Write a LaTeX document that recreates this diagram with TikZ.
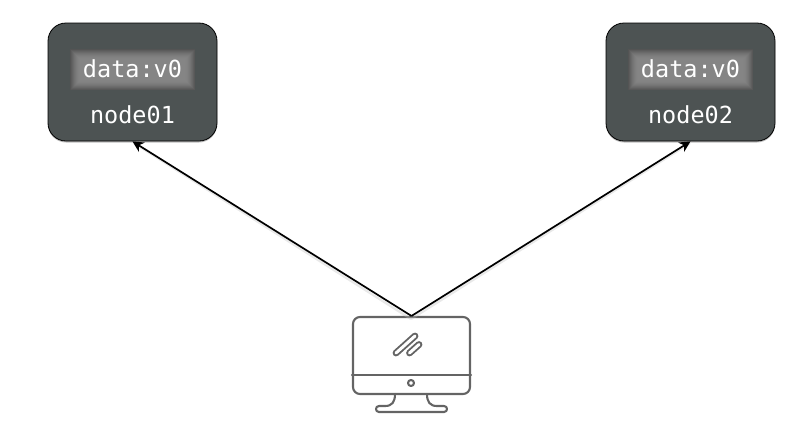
\documentclass[tikz,border=0pt]{standalone}
\usepackage{fontspec}
\setmonofont{DejaVu Sans Mono}
\usetikzlibrary{arrows.meta,shadows}
\definecolor{boxfill}{RGB}{77,83,83}
\definecolor{iconline}{RGB}{100,100,100}
\tikzset{
  x=1pt,y=-1pt,
  serverbox/.style={draw=black,line width=0.8pt,fill=boxfill,rounded corners=18pt,minimum width=169pt,minimum height=118pt,inner sep=0pt,
    drop shadow={shadow xshift=0pt,shadow yshift=-1.5pt,opacity=.25,fill=black}},
  datalabel/.style={text=white,font=\ttfamily\fontsize{23.5}{24}\selectfont,anchor=base,inner sep=0pt},
  link/.style={draw=black,line width=1.7pt,-{Stealth[length=11pt,width=11pt]}},
  linkshadow/.style={draw=black!25,opacity=.35,line width=2.4pt},
  monitorbox/.style={draw=iconline,line width=2.1pt,rounded corners=7pt,minimum width=117pt,minimum height=77pt,inner sep=0pt},
  icon/.style={draw=iconline,line width=2.1pt,line cap=round,line join=round}
}
\begin{document}
\begin{tikzpicture}
\useasboundingbox (0,0) rectangle (793,424);
\node[serverbox] (n1) at (132.5,82) {};
\node[serverbox] (n2) at (690.5,82) {};
\foreach \cx in {132.5,690.5}{
  \foreach \i in {0,...,20}{
    \pgfmathsetmacro{\ins}{\i*0.5}
    \pgfmathsetmacro{\gv}{0.33+0.19*sin(\i*4.5)}
    \definecolor{glowc}{gray}{\gv}
    \fill[glowc] (\cx-62.5+\ins,49+\ins) rectangle (\cx+62.5-\ins,90-\ins);
  }
}
\node[datalabel] (d1) at (132.5,77) {data:v0};
\node[datalabel] (d2) at (690.5,77) {data:v0};
\node[datalabel] (l1) at (132.5,123) {node01};
\node[datalabel] (l2) at (690.5,123) {node02};
\node[monitorbox] (pc) at (411.5,355.5) {};
\draw[linkshadow] (411,319) -- (134,143);
\draw[linkshadow] (411,319) -- (690,143);
\draw[link] (pc.north) -- (n1.south);
\draw[link] (pc.north) -- (n2.south);
\draw[icon] (pc.west |- 0,375) -- (pc.east |- 0,375);
\draw[icon] (411,383) circle (3);
\draw[icon] (395,394) .. controls (395,402) and (392,406) .. (385,406) -- (379,406)
  .. controls (375,406) and (375,412) .. (379,412) -- (444,412)
  .. controls (448,412) and (448,406) .. (444,406) -- (437,406)
  .. controls (430,406) and (427,402) .. (427,394);
\draw[iconline,line width=6.8pt,line cap=round] (396,353) -- (415,336);
\draw[white,line width=3.0pt,line cap=round] (396,353) -- (415,336);
\draw[iconline,line width=6.8pt,line cap=round] (409.5,353) -- (419,344.5);
\draw[white,line width=3.0pt,line cap=round] (409.5,353) -- (419,344.5);
\end{tikzpicture}
\end{document}
